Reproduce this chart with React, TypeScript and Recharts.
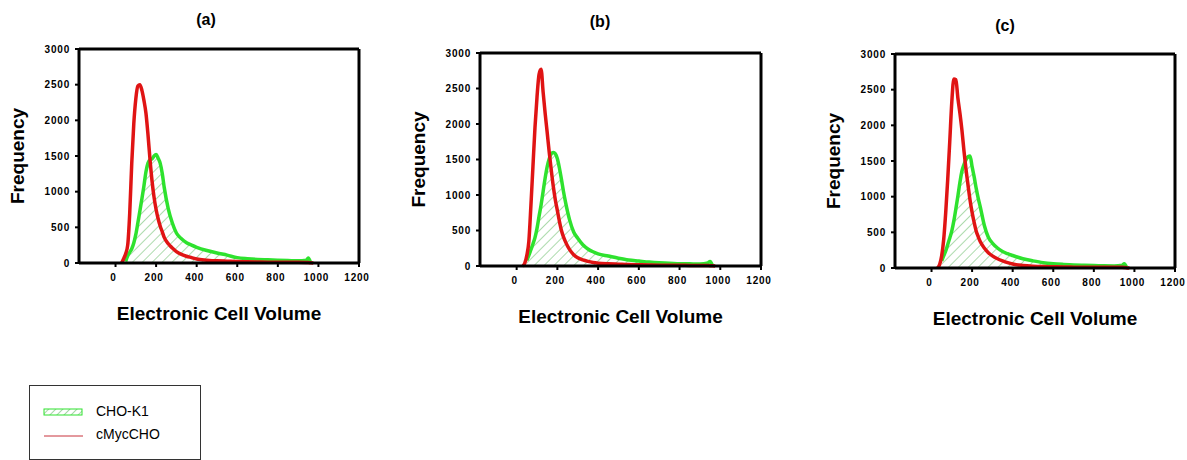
import { ComposedChart, Area, Line, XAxis, YAxis, ReferenceLine } from "recharts";

// electronic cell volume (x) shared by all three panels
const volume = [
  30, 40, 50, 60, 70, 80, 90, 100, 110, 120, 130, 140, 150, 160, 170, 180, 190, 200, 210, 220,
  230, 240, 260, 280, 300, 325, 350, 375, 400, 450, 500, 550, 600, 650, 700, 750, 800, 850, 900,
  940, 950, 960, 975,
];

// (a)
const choA = [
  null, null, 20, 100, 150, 200, 280, 400, 560, 730, 900, 1080, 1280, 1400, 1450, 1460, 1500, 1520,
  1470, 1400, 1260, 1060, 760, 560, 420, 340, 285, 250, 220, 175, 140, 110, 75, 60, 50, 45, 40, 35,
  30, 40, 70, 20, null,
];
const mycA = [
  0, 60, 130, 250, 700, 1400, 1950, 2300, 2480, 2500, 2420, 2280, 2100, 1800, 1450, 1150, 920, 750,
  620, 520, 440, 360, 270, 210, 160, 120, 95, 75, 55, 40, 30, 25, 20, 18, 15, 12, 12, 10, 10, 8, 6, 4,
  0,
];

// (b)
const choB = [
  null, null, 80, 150, 230, 310, 400, 530, 700, 860, 1050, 1240, 1400, 1510, 1580, 1600, 1580, 1510,
  1380, 1220, 1050, 900, 650, 480, 390, 300, 240, 200, 170, 140, 110, 85, 70, 55, 45, 40, 32, 30, 28,
  45, 65, 20, null,
];
const mycB = [
  0, 40, 150, 350, 850, 1400, 1950, 2380, 2700, 2770, 2450, 2150, 1880, 1600, 1350, 1120, 930, 780,
  630, 500, 410, 340, 230, 160, 115, 85, 65, 50, 40, 30, 25, 20, 18, 15, 12, 10, 10, 8, 8, 6, 5, 3, 0,
];

// (c)
const choC = [
  null, null, 100, 170, 240, 330, 420, 520, 660, 830, 1010, 1200, 1360, 1450, 1520, 1560, 1570, 1420,
  1280, 1120, 980, 860, 600, 430, 350, 280, 230, 200, 175, 130, 100, 75, 60, 50, 42, 38, 35, 30, 28,
  38, 60, 20, null,
];
const mycC = [
  0, 50, 170, 400, 780, 1250, 1780, 2330, 2650, 2640, 2380, 2170, 1930, 1640, 1380, 1160, 950, 780,
  640, 520, 440, 370, 280, 215, 170, 130, 100, 75, 55, 35, 25, 20, 18, 15, 12, 10, 10, 10, 10, 10, 8,
  4, 0,
];

const xTicks = [0, 200, 400, 600, 800, 1000, 1200];
const yTicks = [0, 500, 1000, 1500, 2000, 2500, 3000];
const seriesNames = ["CHO-K1", "cMycCHO"];

const GREEN = "#2ee22e";
const RED = "#e01414";
const FONT = '"Liberation Sans", Arial, sans-serif';

const Y_W = 124;
const X_H = 100;
const M = { top: 6, right: 24, left: 0, bottom: 0 };

const panels = [
  { id: "a", cho: choA, myc: mycA, left: 79, top: 49, w: 280, h: 214, tx: 206, ty: 20 },
  { id: "b", cho: choB, myc: mycB, left: 480, top: 53, w: 281, h: 213, tx: 600, ty: 22 },
  { id: "c", cho: choC, myc: mycC, left: 895, top: 54, w: 280, h: 214, tx: 1005, ty: 26 },
];

const tickStyle = { fill: "#000", fontSize: 10, fontWeight: "bold", letterSpacing: 0.8, fontFamily: FONT };
const titleStyle = { fill: "#000", fontSize: 19, fontWeight: "bold", fontFamily: FONT };

function Panel({ p }: { p: (typeof panels)[number] }) {
  const data = volume.map((v, i) => ({ v, cho: p.cho[i], myc: p.myc[i] }));
  const width = Y_W + p.w + M.right;
  const height = M.top + p.h + X_H;
  return (
    <div style={{ position: "absolute", left: p.left - Y_W, top: p.top - M.top }}>
      <ComposedChart width={width} height={height} data={data} margin={M}>
        <defs>
          <pattern
            id={`hatch-${p.id}`}
            patternUnits="userSpaceOnUse"
            width="7"
            height="7"
            patternTransform="rotate(45)"
          >
            <line x1="0" y1="0" x2="0" y2="7" stroke="#5cb85c" strokeWidth="1" />
          </pattern>
        </defs>
        <XAxis
          dataKey="v"
          type="number"
          domain={[-180, 1200]}
          ticks={xTicks}
          height={X_H}
          axisLine={{ stroke: "#000", strokeWidth: 3 }}
          tickLine={{ stroke: "#000", strokeWidth: 2 }}
          tickSize={4}
          tickMargin={7}
          tick={{ ...tickStyle, dx: -2 }}
          interval={0}
          label={{ value: "Electronic Cell Volume", position: "center", style: titleStyle }}
        />
        <YAxis
          type="number"
          domain={[0, 3000]}
          ticks={yTicks}
          width={Y_W}
          axisLine={{ stroke: "#000", strokeWidth: 3 }}
          tickLine={{ stroke: "#000", strokeWidth: 2 }}
          tickSize={4}
          tickMargin={5}
          tick={tickStyle}
          interval={0}
          label={{ value: "Frequency", angle: -90, position: "center", style: titleStyle }}
        />
        <ReferenceLine y={3000} stroke="#000" strokeWidth={3} />
        <ReferenceLine x={1200} stroke="#000" strokeWidth={3} />
        <Area
          type="monotone"
          dataKey="cho"
          name={seriesNames[0]}
          stroke={GREEN}
          strokeWidth={3.5}
          fill={`url(#hatch-${p.id})`}
          fillOpacity={1}
          dot={false}
          activeDot={false}
          isAnimationActive={false}
        />
        <Line
          type="monotone"
          dataKey="myc"
          name={seriesNames[1]}
          stroke={RED}
          strokeWidth={3.5}
          dot={false}
          activeDot={false}
          isAnimationActive={false}
        />
      </ComposedChart>
      <div
        style={{
          position: "absolute",
          left: p.tx - (p.left - Y_W),
          top: p.ty - (p.top - M.top),
          transform: "translate(-50%, -50%)",
          fontFamily: FONT,
          fontWeight: "bold",
          fontSize: 16,
          whiteSpace: "nowrap",
        }}
      >
        ({p.id})
      </div>
    </div>
  );
}

function LegendBox() {
  return (
    <div
      style={{
        position: "absolute",
        left: 29,
        top: 385,
        width: 170,
        height: 73,
        border: "1px solid #333",
        fontFamily: FONT,
        fontSize: 14,
        color: "#000",
      }}
    >
      <svg width={42} height={10} style={{ position: "absolute", left: 13, top: 21 }}>
        <defs>
          <pattern id="hatch-legend" patternUnits="userSpaceOnUse" width="5" height="5" patternTransform="rotate(45)">
            <line x1="0" y1="0" x2="0" y2="5" stroke="#4caf50" strokeWidth="1" />
          </pattern>
        </defs>
        <rect x={1} y={2} width={38} height={6} fill="url(#hatch-legend)" stroke={GREEN} strokeWidth={1} />
      </svg>
      <div style={{ position: "absolute", left: 66, top: 17 }}>{seriesNames[0]}</div>
      <svg width={42} height={4} style={{ position: "absolute", left: 13, top: 48 }}>
        <line x1={1} y1={2} x2={40} y2={2} stroke="#c8323c" strokeWidth={1} />
      </svg>
      <div style={{ position: "absolute", left: 66, top: 40 }}>{seriesNames[1]}</div>
    </div>
  );
}

export default function App() {
  return (
    <div
      style={{
        position: "absolute",
        left: 0,
        top: 0,
        width: 1187,
        height: 460,
        background: "#fff",
        overflow: "hidden",
      }}
    >
      {panels.map((p) => (
        <Panel key={p.id} p={p} />
      ))}
      <LegendBox />
    </div>
  );
}
